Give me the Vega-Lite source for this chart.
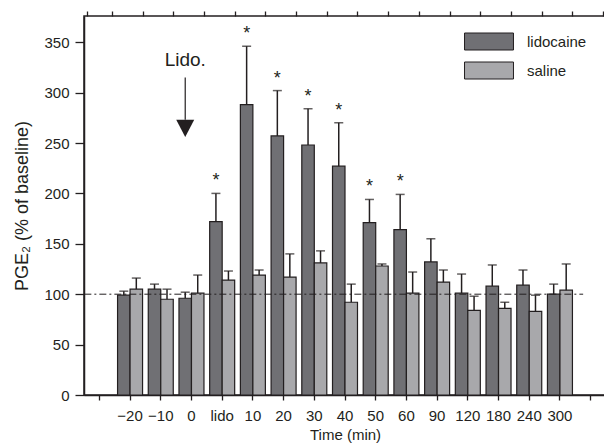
{
  "$schema": "https://vega.github.io/schema/vega-lite/v6.json",
  "width": 522,
  "height": 379,
  "autosize": "none",
  "padding": {"left": 84, "top": 16, "right": 0, "bottom": 52},
  "background": "white",
  "config": {
    "font": "Liberation Sans",
    "view": {"stroke": "#231f20", "strokeWidth": 1.5},
    "axis": {
      "domainColor": "#231f20", "domainWidth": 1.5,
      "tickColor": "#231f20", "tickWidth": 1.3,
      "labelColor": "#231f20", "labelFontSize": 15, "labelFont": "Liberation Sans",
      "titleColor": "#231f20", "titleFontSize": 15, "titleFontWeight": "normal", "titleFont": "Liberation Sans",
      "grid": false
    }
  },
  "datasets": {
    "bars": [
      {"time": "−20", "group": "lidocaine", "mean": 99, "upper": 103, "sig": ""},
      {"time": "−20", "group": "saline", "mean": 105, "upper": 116, "sig": ""},
      {"time": "−10", "group": "lidocaine", "mean": 105, "upper": 110, "sig": ""},
      {"time": "−10", "group": "saline", "mean": 95, "upper": 105, "sig": ""},
      {"time": "0", "group": "lidocaine", "mean": 96, "upper": 102, "sig": ""},
      {"time": "0", "group": "saline", "mean": 101, "upper": 119, "sig": ""},
      {"time": "lido", "group": "lidocaine", "mean": 172, "upper": 200, "sig": "*"},
      {"time": "lido", "group": "saline", "mean": 114, "upper": 123, "sig": ""},
      {"time": "10", "group": "lidocaine", "mean": 288, "upper": 346, "sig": "*"},
      {"time": "10", "group": "saline", "mean": 119, "upper": 124, "sig": ""},
      {"time": "20", "group": "lidocaine", "mean": 257, "upper": 302, "sig": "*"},
      {"time": "20", "group": "saline", "mean": 117, "upper": 140, "sig": ""},
      {"time": "30", "group": "lidocaine", "mean": 248, "upper": 284, "sig": "*"},
      {"time": "30", "group": "saline", "mean": 131, "upper": 143, "sig": ""},
      {"time": "40", "group": "lidocaine", "mean": 227, "upper": 270, "sig": "*"},
      {"time": "40", "group": "saline", "mean": 92, "upper": 110, "sig": ""},
      {"time": "50", "group": "lidocaine", "mean": 171, "upper": 194, "sig": "*"},
      {"time": "50", "group": "saline", "mean": 128, "upper": 130, "sig": ""},
      {"time": "60", "group": "lidocaine", "mean": 164, "upper": 199, "sig": "*"},
      {"time": "60", "group": "saline", "mean": 101, "upper": 122, "sig": ""},
      {"time": "90", "group": "lidocaine", "mean": 132, "upper": 155, "sig": ""},
      {"time": "90", "group": "saline", "mean": 112, "upper": 124, "sig": ""},
      {"time": "120", "group": "lidocaine", "mean": 101, "upper": 120, "sig": ""},
      {"time": "120", "group": "saline", "mean": 84, "upper": 98, "sig": ""},
      {"time": "180", "group": "lidocaine", "mean": 108, "upper": 129, "sig": ""},
      {"time": "180", "group": "saline", "mean": 86, "upper": 92, "sig": ""},
      {"time": "240", "group": "lidocaine", "mean": 109, "upper": 124, "sig": ""},
      {"time": "240", "group": "saline", "mean": 83, "upper": 99, "sig": ""},
      {"time": "300", "group": "lidocaine", "mean": 100, "upper": 110, "sig": ""},
      {"time": "300", "group": "saline", "mean": 104, "upper": 130, "sig": ""}
    ]
  },
  "data": {"name": "bars"},
  "layer": [
    {
      "mark": {"type": "bar", "stroke": "#231f20", "strokeWidth": 1.2},
      "encoding": {
        "x": {
          "field": "time", "type": "nominal", "sort": null,
          "scale": {"domain": [" ", "−20", "−10", "0", "lido", "10", "20", "30", "40", "50", "60", "90", "120", "180", "240", "300", "  "], "paddingInner": 0.186, "paddingOuter": 0.093},
          "axis": {"title": "Time (min)", "titleFontWeight": "normal", "tickBand": "center", "labelAngle": 0, "tickSize": 5, "labelPadding": 8, "titlePadding": 4}
        },
        "xOffset": {"field": "group", "type": "nominal", "scale": {"domain": ["lidocaine", "saline"], "paddingInner": 0, "paddingOuter": 0}},
        "y": {
          "field": "mean", "type": "quantitative",
          "scale": {"domain": [0, 376], "nice": false, "zero": true},
          "axis": {"title": "PGE₂ (% of baseline)", "titleFontSize": 18, "titleFontWeight": "normal", "values": [0, 50, 100, 150, 200, 250, 300, 350], "tickSize": 9, "labelPadding": 6, "titlePadding": 12}
        },
        "color": {
          "field": "group", "type": "nominal",
          "scale": {"domain": ["lidocaine", "saline"], "range": ["#707074", "#a8a8ab"]},
          "legend": {
            "title": null, "orient": "none", "legendX": 396, "legendY": 16.5, "padding": 0,
            "symbolType": "M-2.88,-1H2.88V1H-2.88Z", "symbolSize": 289,
            "symbolStrokeColor": "#231f20", "symbolStrokeWidth": 1,
            "labelFontSize": 15, "labelOffset": 29, "rowPadding": 7, "labelColor": "#231f20"
          }
        }
      }
    },
    {
      "mark": {"type": "rule", "stroke": "#231f20", "strokeWidth": 1.5},
      "encoding": {
        "x": {"field": "time", "type": "nominal", "sort": null, "axis": null},
        "xOffset": {"field": "group", "type": "nominal"},
        "y": {"field": "mean", "type": "quantitative", "axis": null},
        "y2": {"field": "upper"}
      }
    },
    {
      "mark": {"type": "tick", "color": "#231f20", "size": 9, "thickness": 1.5, "orient": "horizontal"},
      "encoding": {
        "x": {"field": "time", "type": "nominal", "sort": null, "axis": {"tickBand": "extent", "labels": false, "domain": false, "title": null, "tickSize": 5}},
        "xOffset": {"field": "group", "type": "nominal"},
        "y": {"field": "upper", "type": "quantitative", "axis": {"values": [25, 75, 125, 175, 225, 275, 325], "labels": false, "domain": false, "title": null, "tickSize": 4}}
      }
    },
    {
      "mark": {"type": "text", "fontSize": 18, "baseline": "alphabetic", "dy": -7, "color": "#231f20"},
      "encoding": {
        "x": {"field": "time", "type": "nominal", "sort": null, "axis": null},
        "xOffset": {"field": "group", "type": "nominal"},
        "y": {"field": "upper", "type": "quantitative", "axis": null},
        "text": {"field": "sig"}
      }
    },
    {
      "data": {"values": [{}]},
      "mark": {"type": "rule", "stroke": "#231f20", "strokeWidth": 1, "strokeDash": [7, 3, 2, 3]},
      "encoding": {
        "x": {"datum": " ", "axis": null, "bandPosition": -0.1},
        "x2": {"datum": "  ", "bandPosition": 0.2},
        "y": {"datum": 100, "axis": null}
      }
    },
    {
      "data": {"values": [{}]},
      "mark": {"type": "rule", "stroke": "#231f20", "strokeWidth": 1.2},
      "encoding": {
        "x": {"datum": "0", "axis": null},
        "xOffset": {"datum": "lidocaine"},
        "y": {"datum": 315, "axis": null},
        "y2": {"datum": 273}
      }
    },
    {
      "data": {"values": [{}]},
      "mark": {"type": "point", "shape": "M-1,-0.95L1,-0.95L0,0.95Z", "size": 324, "filled": true, "color": "#231f20", "opacity": 1},
      "encoding": {
        "x": {"datum": "0", "axis": null},
        "xOffset": {"datum": "lidocaine"},
        "y": {"datum": 264.5, "axis": null}
      }
    },
    {
      "data": {"values": [{"label": "Lido."}]},
      "mark": {"type": "text", "fontSize": 19, "baseline": "middle", "align": "center", "color": "#231f20"},
      "encoding": {
        "x": {"datum": "0", "axis": null},
        "xOffset": {"datum": "lidocaine"},
        "y": {"datum": 332.4, "axis": null},
        "text": {"field": "label"}
      }
    }
  ],
  "resolve": {"axis": {"x": "independent", "y": "independent"}}
}
